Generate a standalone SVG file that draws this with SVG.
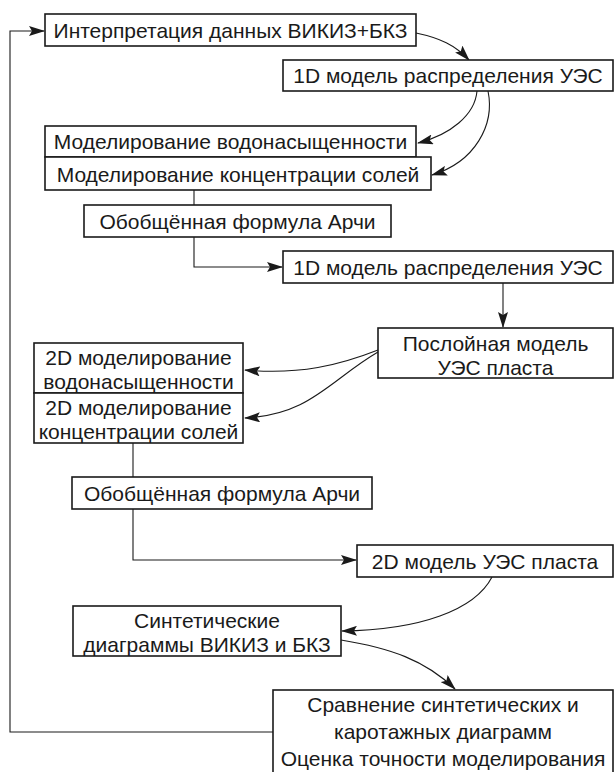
<svg xmlns="http://www.w3.org/2000/svg" width="615" height="772" viewBox="0 0 615 772">
<style>
.box{fill:#fff;stroke:#1a1a1a;stroke-width:1.6}
.t{font-family:"Liberation Sans",Arial,sans-serif;font-size:21px;fill:#1a1a1a;text-anchor:middle}
.c{fill:none;stroke:#1a1a1a;stroke-width:1.1}
</style>
<defs>
<marker id="ah" markerUnits="userSpaceOnUse" markerWidth="16" markerHeight="10" refX="15" refY="5" orient="auto">
<path d="M0,0 L16,5 L0,10 L3,5 Z" fill="#1a1a1a"/>
</marker>
</defs>
<rect width="615" height="772" fill="#fff"/>
<g id="connectors">
<path class="c" d="M273,732 H10 V31 H44" marker-end="url(#ah)"/>
<path class="c" d="M416,33 C440,38 455,45 469,60" marker-end="url(#ah)"/>
<path class="c" d="M477,91 C475,115 450,135 418,143" marker-end="url(#ah)"/>
<path class="c" d="M488,91 C495,125 475,162 432,175" marker-end="url(#ah)"/>
<path class="c" d="M194,190 V205"/>
<path class="c" d="M194,237 V267 H282" marker-end="url(#ah)"/>
<path class="c" d="M503,283 V327" marker-end="url(#ah)"/>
<path class="c" d="M378,350 C340,365 300,375 245,370" marker-end="url(#ah)"/>
<path class="c" d="M378,352 C330,380 310,415 245,418" marker-end="url(#ah)"/>
<path class="c" d="M133,443 V477"/>
<path class="c" d="M133,509 V560 H356" marker-end="url(#ah)"/>
<path class="c" d="M492,577 C475,610 420,630 342,631" marker-end="url(#ah)"/>
<path class="c" d="M341,640 C390,648 425,660 455,689" marker-end="url(#ah)"/>
</g>
<g id="n1"><rect class="box" x="45" y="14" width="371" height="32"/><text class="t" x="230.5" y="37.5">Интерпретация данных ВИКИЗ+БКЗ</text></g>
<g id="n2"><rect class="box" x="283" y="60" width="330" height="31"/><text class="t" x="448" y="83">1D модель распределения УЭС</text></g>
<g id="n3"><rect class="box" x="45" y="126" width="371" height="31"/><text class="t" x="230.5" y="149">Моделирование водонасыщенности</text></g>
<g id="n4"><rect class="box" x="45" y="157" width="386" height="33"/><text class="t" x="238" y="181.5">Моделирование концентрации солей</text></g>
<g id="n5"><rect class="box" x="84" y="205" width="307" height="32"/><text class="t" x="237.5" y="228.5">Обобщённая формула Арчи</text></g>
<g id="n6"><rect class="box" x="283" y="251" width="330" height="32"/><text class="t" x="448" y="274.5">1D модель распределения УЭС</text></g>
<g id="n7"><rect class="box" x="378" y="328" width="235" height="50"/><text class="t" x="495.5" y="351">Послойная модель</text><text class="t" x="495.5" y="375">УЭС пласта</text></g>
<g id="n8"><rect class="box" x="34" y="343" width="209" height="50"/><text class="t" x="138.5" y="364.5">2D моделирование</text><text class="t" x="138.5" y="388.5">водонасыщенности</text></g>
<g id="n9"><rect class="box" x="34" y="393" width="209" height="50"/><text class="t" x="138.5" y="414.5">2D моделирование</text><text class="t" x="138.5" y="438.5">концентрации солей</text></g>
<g id="n10"><rect class="box" x="72" y="477" width="300" height="32"/><text class="t" x="222" y="500.5">Обобщённая формула Арчи</text></g>
<g id="n11"><rect class="box" x="357" y="545" width="256" height="32"/><text class="t" x="485" y="568.5">2D модель УЭС пласта</text></g>
<g id="n12"><rect class="box" x="73" y="606" width="268" height="50"/><text class="t" x="207" y="627.5">Синтетические</text><text class="t" x="207" y="651.5">диаграммы ВИКИЗ и БКЗ</text></g>
<g id="n13"><rect class="box" x="273" y="690" width="340" height="90"/><text class="t" x="443" y="711.5">Сравнение синтетических и</text><text class="t" x="443" y="739">каротажных диаграмм</text><text class="t" x="443" y="766">Оценка точности моделирования</text></g>
</svg>
